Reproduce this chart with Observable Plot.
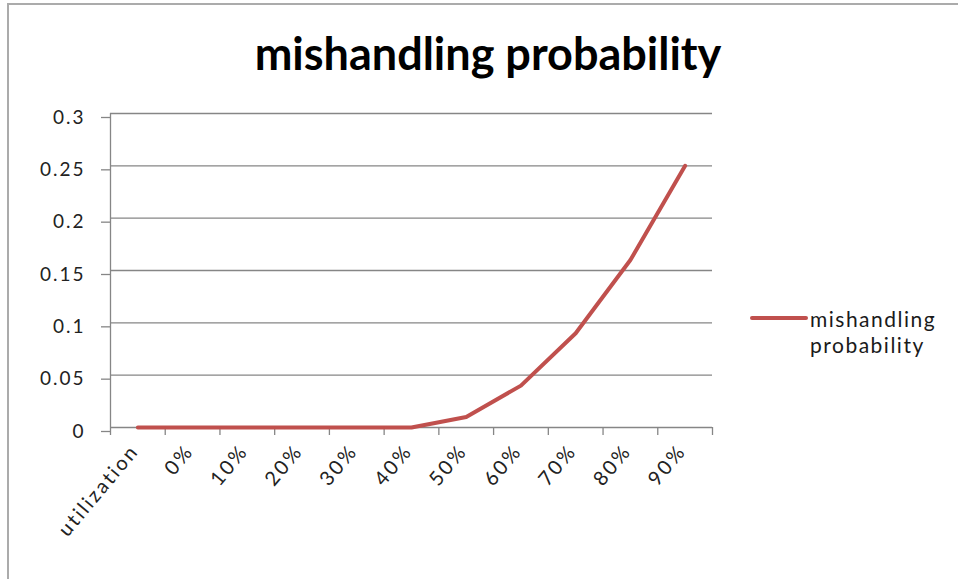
<!DOCTYPE html>
<html>
<head>
<meta charset="utf-8">
<script src="https://cdn.jsdelivr.net/npm/d3@7"></script>
<script src="https://cdn.jsdelivr.net/npm/@observablehq/plot@0.6"></script>
<style>
  html, body { margin: 0; padding: 0; background: #fff; }
  #chart { position: relative; width: 958px; height: 579px; overflow: hidden; background: #fff; }
  #frame { position: absolute; left: 7px; top: 3px; right: -4px; bottom: -4px;
           border-top: 2px solid #ababab; border-left: 2px solid #ababab; }
  #plot { position: absolute; left: 0; top: 0; }
  #plot g[aria-label="y-axis tick label"] text { letter-spacing: 2px; }
  #plot g[aria-label="x-axis tick label"] text { letter-spacing: 2.4px; }
  #title { position: absolute; left: 0; width: 976px; top: 26px; text-align: center;
           font-family: Lato, "Open Sans", sans-serif; font-weight: 700; font-size: 45px;
           line-height: 54px; color: #000; white-space: nowrap; }
  #legend { position: absolute; left: 750px; top: 306px; }
  #legend .swatch { position: absolute; left: 0; top: 10px; width: 58px; height: 4px;
                    border-radius: 2px; background: #C0504D; }
  #legend .label { position: absolute; left: 60px; top: 0; font-family: Lato, sans-serif;
                   font-size: 21px; line-height: 26px; color: #1a1a1a; letter-spacing: 1.5px;
                   white-space: nowrap; }
</style>
</head>
<body>
<div id="chart">
  <div id="frame"></div>
  <div id="plot"></div>
  <div id="title">mishandling probability</div>
  <div id="legend"><div class="swatch"></div><div class="label">mishandling<br>probability</div></div>
</div>
<script>
// Categories along the horizontal axis
const categories = ["utilization", "0%", "10%", "20%", "30%", "40%", "50%", "60%", "70%", "80%", "90%"];
// Mishandling probability for each category
const probability = [0, 0, 0, 0, 0, 0, 0.01, 0.04, 0.09, 0.16, 0.25];
// Value axis ticks
const yTicks = [0, 0.05, 0.1, 0.15, 0.2, 0.25, 0.3];

const rows = categories.map((c, i) => ({i, category: c, value: probability[i]}));
const centers = categories.map((c, i) => i);
const boundaries = d3.range(categories.length + 1).map(i => i - 0.5);

const chart = Plot.plot({
  width: 958,
  height: 579,
  marginTop: 113,
  marginBottom: 152,
  marginLeft: 110,
  marginRight: 246,
  style: {fontFamily: "Lato, sans-serif", fontSize: "19px", color: "#222", background: "transparent"},
  x: {type: "linear", domain: [-0.5, categories.length - 0.5], label: null},
  y: {type: "linear", domain: [0, 0.3], label: null},
  marks: [
    // horizontal gridlines
    Plot.ruleY(yTicks, {stroke: "#868686", strokeWidth: 1.3}),
    // value axis line
    Plot.ruleX([-0.5], {y1: 0, y2: 0.3, stroke: "#868686", strokeWidth: 1.3}),
    // value axis ticks and labels
    Plot.axisY(yTicks, {
      tickSize: 9, tickPadding: 16, stroke: "#868686", strokeWidth: 1.3,
      tickFormat: d => String(d), dy: 4, label: null
    }),
    // category boundary tick marks
    Plot.axisX(boundaries, {tickSize: 8, stroke: "#868686", strokeWidth: 1.3, tickFormat: () => "", label: null}),
    // category labels
    Plot.axisX(centers, {
      tickSize: 0, tickPadding: 20, tickRotate: -50, fontSize: 20, dx: -3,
      tickFormat: i => categories[i], label: null
    }),
    // the series
    Plot.line(rows, {x: "i", y: "value", stroke: "#C0504D", strokeWidth: 4,
      strokeLinecap: "round", strokeLinejoin: "round"})
  ]
});
document.getElementById("plot").appendChild(chart);
</script>
</body>
</html>
